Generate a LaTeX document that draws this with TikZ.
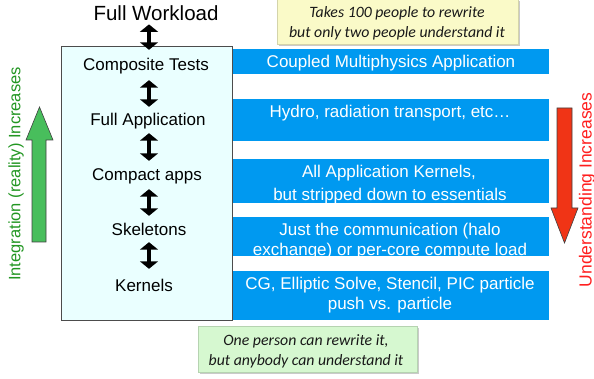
\documentclass[tikz,border=0pt]{standalone}
\usepackage{fontspec}
\setmainfont{Liberation Sans}
\newfontfamily\notefont{Carlito}
\usetikzlibrary{arrows.meta,shadows}

\definecolor{barblue}{RGB}{0,153,240}
\definecolor{boxcyan}{RGB}{234,255,255}
\definecolor{notey}{RGB}{250,250,200}
\definecolor{noteg}{RGB}{214,248,208}
\definecolor{upgreen}{RGB}{72,190,92}
\definecolor{downred}{RGB}{240,52,22}
\definecolor{txtgreen}{RGB}{34,150,34}
\definecolor{txtred}{RGB}{255,30,30}

\tikzset{
  lbl/.style={inner sep=0pt, anchor=base, text height=12.5pt, text depth=4pt,
    font=\fontsize{17}{20}\selectfont},
  bartext/.style={inner sep=0pt, anchor=base, text=white,
    font=\fontsize{17}{20}\selectfont},
  bar/.style={fill=barblue, inner sep=0pt, anchor=north west, minimum width=317pt},
  notebox/.style={inner sep=0pt, anchor=north west,
    drop shadow={shadow xshift=2pt, shadow yshift=-2pt, opacity=.35, fill=black!60}},
  notetext/.style={inner sep=0pt, anchor=base, text=black!90,
    font=\notefont\itshape\fontsize{15.8}{18}\selectfont},
  dbl/.style={line width=4pt,
    {Triangle[width=18pt,length=7.5pt]}-{Triangle[width=18pt,length=7.5pt]}},
  sidearrow/.style={draw=black!75, line width=0.6pt, line join=miter},
}

\begin{document}
\begin{tikzpicture}[x=1pt, y=-1pt]
\useasboundingbox (0,0) rectangle (594,379);

% blue description bars
\node[bar, minimum height=25pt] (bar1) at (232,49) {};
\node[bar, minimum height=42pt] (bar2) at (232,99) {};
\node[bar, minimum height=44pt] (bar3) at (232,159) {};
\node[bar, minimum height=39pt] (bar4) at (232,217) {};
\node[bar, minimum height=49pt] (bar5) at (232,271) {};

% the hierarchy box
\node[draw=black!70, line width=0.8pt, fill=boxcyan, inner sep=0pt,
  anchor=north west, minimum width=171pt, minimum height=274pt] (box) at (61,46) {};

% notes
\node[notebox, fill=notey, draw=notey!85!black, line width=0.3pt,
  minimum width=241pt, minimum height=45pt] (ynote) at (277,-1) {};
\node[notetext] (yn1) at (397,18) {Takes 100 people to rewrite};
\node[notetext] (yn2) at (397,37.5) {but only two people understand it};

\node[notebox, fill=noteg, draw=noteg!85!black, line width=0.3pt,
  minimum width=219pt, minimum height=46pt] (gnote) at (198,326) {};
\node[notetext] (gn1) at (306,345) {One person can rewrite it,};
\node[notetext] (gn2) at (306,365) {but anybody can understand it};

% levels
\node[inner sep=0pt, anchor=base, font=\fontsize{20.5}{24}\selectfont] (fw) at (156,20.5) {Full Workload};
\node[lbl] (ct) at (146,71) {Composite Tests};
\node[lbl] (fa) at (148,126) {Full Application};
\node[lbl] (ca) at (147,181) {Compact apps};
\node[lbl] (sk) at (149,236) {Skeletons};
\node[lbl] (kn) at (144,291) {Kernels};

\coordinate (axis) at (149,0);
\draw[dbl, shorten <=3.5pt, shorten >=8.5pt] (fw.south -| axis) -- (ct.north -| axis);
\draw[dbl, shorten <=5pt, shorten >=6.5pt] (ct.south -| axis) -- (fa.north -| axis);
\draw[dbl, shorten <=3pt, shorten >=7.5pt] (fa.south -| axis) -- (ca.north -| axis);
\draw[dbl, shorten <=4pt, shorten >=7.5pt] (ca.south -| axis) -- (sk.north -| axis);
\draw[dbl, shorten <=2pt, shorten >=9.5pt] (sk.south -| axis) -- (kn.north -| axis);

% bar texts
\node[bartext] (b1) at (391,68) {Coupled Multiphysics Application};
\node[bartext] (b2) at (390,118) {Hydro, radiation transport, etc…};
\node[bartext] (b3a) at (389,178) {All Application Kernels,};
\node[bartext] (b3b) at (390,201) {but stripped down to essentials};
\node[bartext] (b4a) at (390,236) {Just the communication (halo};
\node[bartext] (b4b) at (390,255) {exchange) or per-core compute load};
\node[bartext] (b5a) at (390,290) {CG, Elliptic Solve, Stencil, PIC particle};
\node[bartext] (b5b) at (390,309) {push vs. particle};

% side arrows
\filldraw[sidearrow, fill=upgreen]
  (32,242) -- (32,140) -- (26,140) -- (39.5,107) -- (53,140) -- (46,140) -- (46,242) -- cycle;
\filldraw[sidearrow, fill=downred]
  (557,108) -- (557,208) -- (551,208) -- (564.5,243) -- (578,208) -- (572,208) -- (572,108) -- cycle;

\node[rotate=90, inner sep=0pt, text=txtgreen, font=\fontsize{16.5}{20}\selectfont]
  (intxt) at (16,174) {Integration (reality) Increases};
\node[rotate=90, inner sep=0pt, text=txtred, font=\fontsize{17.5}{20}\selectfont]
  (untxt) at (587,190) {Understanding Increases};
\end{tikzpicture}
\end{document}
